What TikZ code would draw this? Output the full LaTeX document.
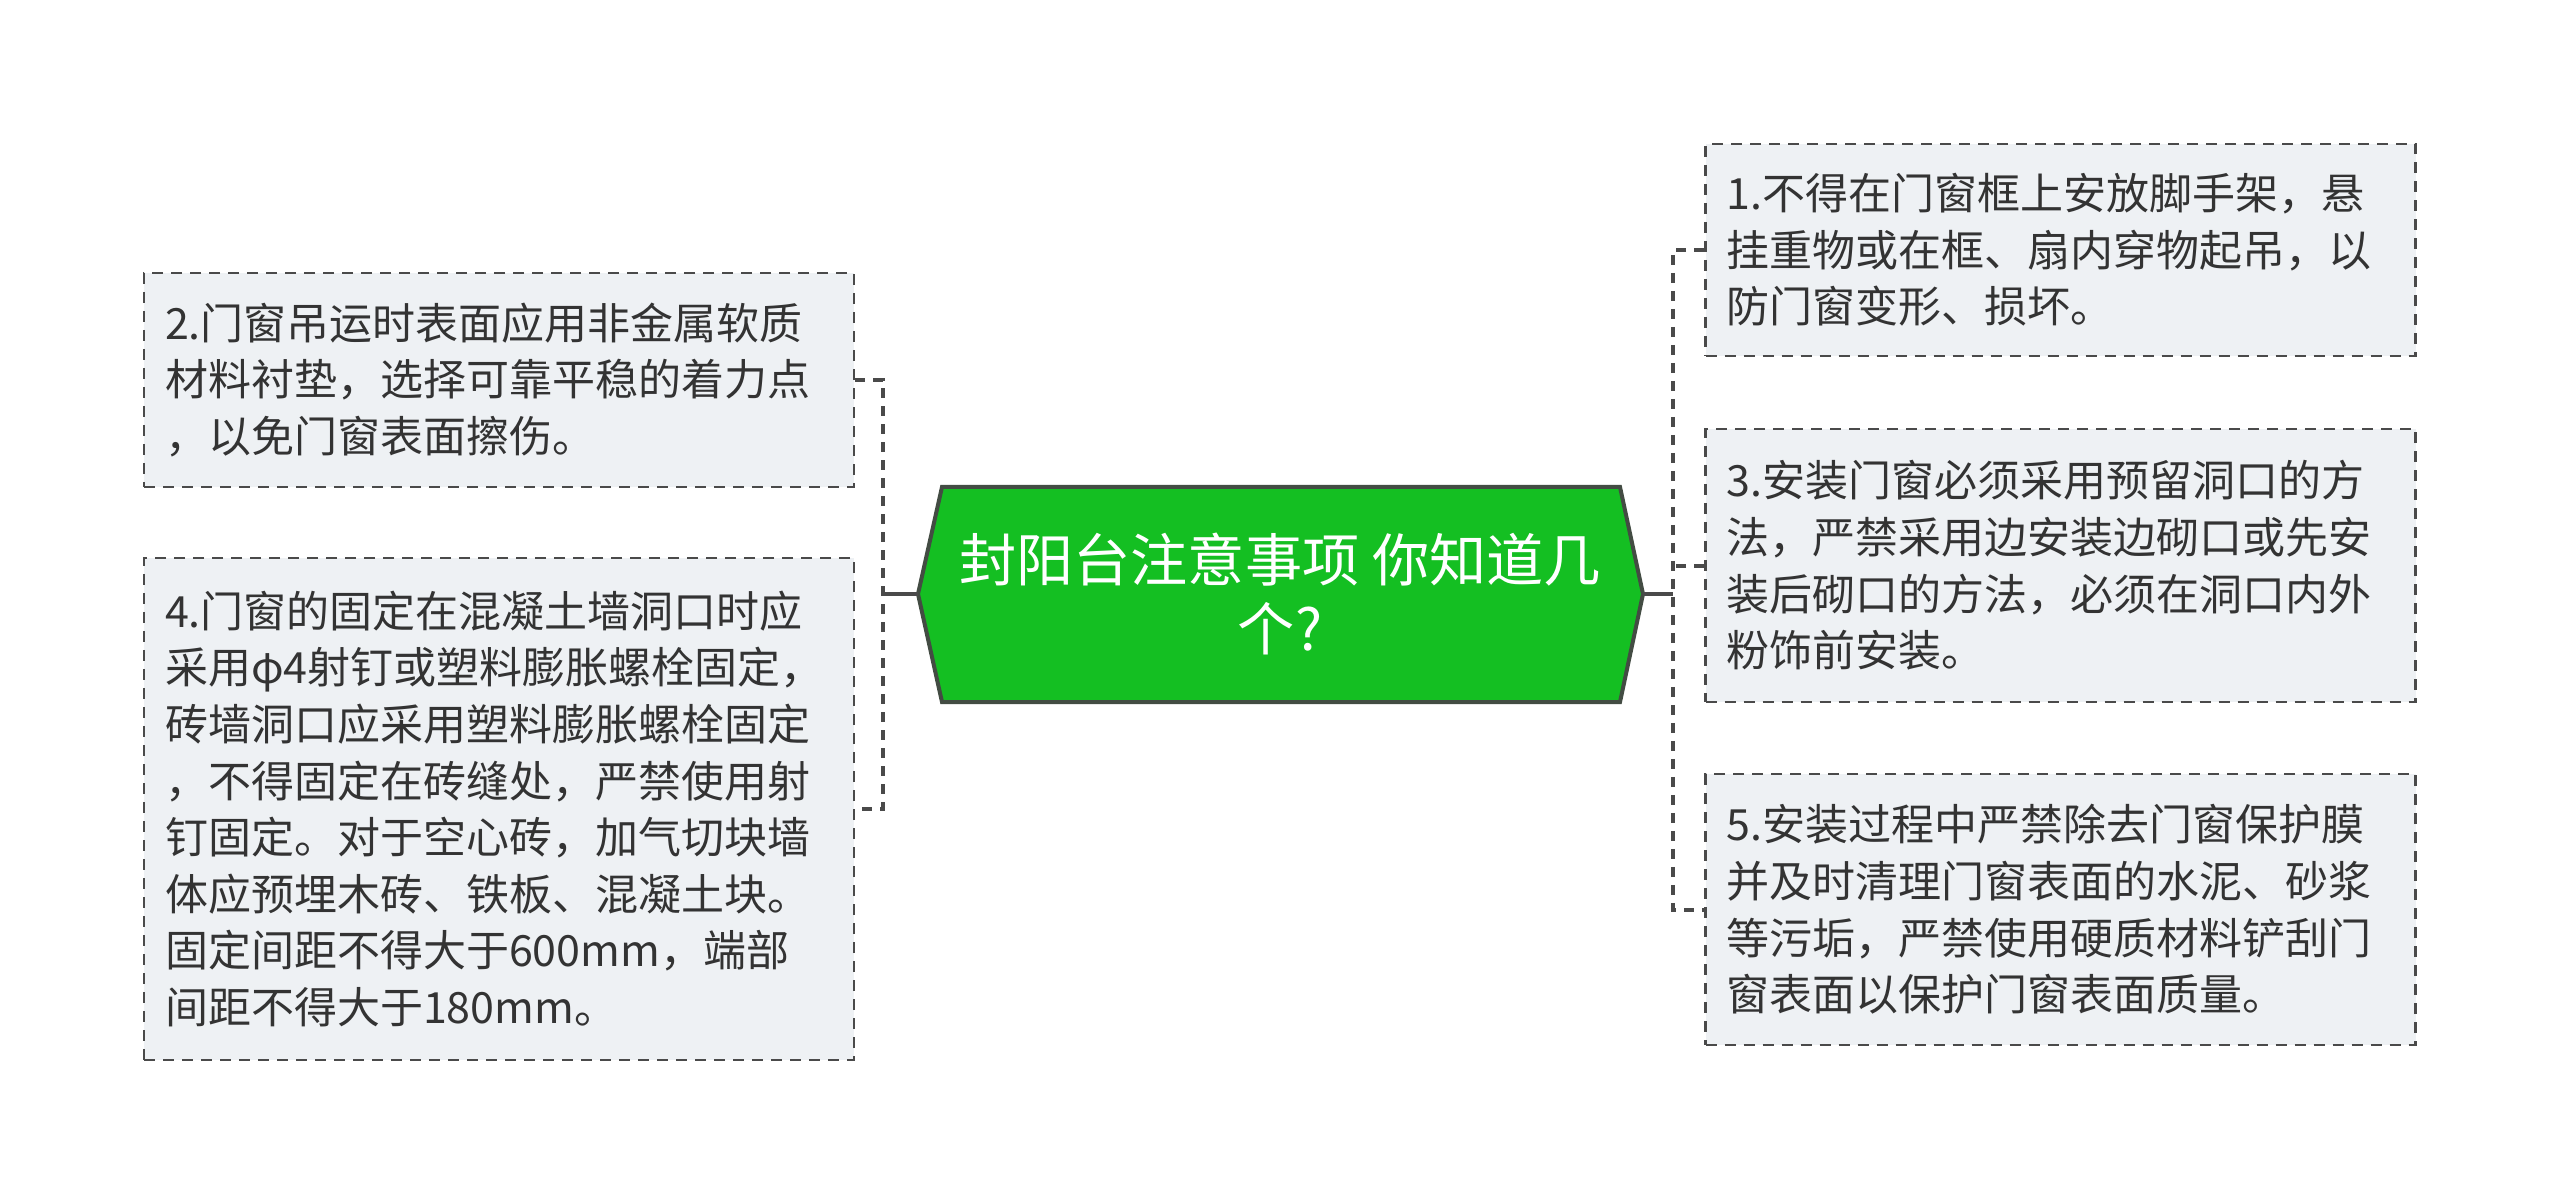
\documentclass[tikz,border=0pt]{standalone}
\usepackage{fontspec}
\setmainfont{Noto Sans CJK SC}
\begin{document}
\definecolor{boxfill}{HTML}{EEF1F4}
\definecolor{boxline}{HTML}{4A4A4A}
\definecolor{txt}{HTML}{333333}
\definecolor{hexgreen}{HTML}{14BF22}
\definecolor{hexline}{HTML}{434C43}
\definecolor{conncol}{HTML}{4A4A4A}
\tikzset{
  itembox/.style={draw=boxline, fill=boxfill, line width=1.3pt, dash pattern=on 5.5pt off 4pt,
    text=txt, align=left, inner sep=0pt, text width=334pt, minimum width=355pt,
    font=\fontsize{21.5}{28.3}\selectfont},
  conn/.style={draw=conncol, line width=2pt},
  dconn/.style={draw=conncol, line width=2pt, dash pattern=on 5pt off 4pt},
}
\begin{tikzpicture}[x=0.5pt,y=-0.5pt]
\useasboundingbox (0,0) rectangle (2560,1203);
\fill[white] (0,0) rectangle (2560,1203);
% central hexagon
\coordinate (cL) at (918,594);
\coordinate (cR) at (1643,594);
\draw[fill=hexgreen, draw=hexline, line width=2pt]
  (cL) -- (942,487) -- (1620,487) -- (cR) -- (1620,702) -- (942,702) -- cycle;
\node[text=white, align=center, font=\fontsize{28.6}{34.3}\selectfont] (ctr) at (1280,594)
  {封阳台注意事项 你知道几\\个?};
% left boxes
\node[itembox, minimum height=107pt] (b2) at (499,380)
  {2.门窗吊运时表面应用非金属软质\\材料衬垫，选择可靠平稳的着力点\\，以免门窗表面擦伤。};
\node[itembox, minimum height=251pt] (b4) at (499,809)
  {4.门窗的固定在混凝土墙洞口时应\\采用φ4射钉或塑料膨胀螺栓固定，\\砖墙洞口应采用塑料膨胀螺栓固定\\，不得固定在砖缝处，严禁使用射\\钉固定。对于空心砖，加气切块墙\\体应预埋木砖、铁板、混凝土块。\\固定间距不得大于600mm，端部\\间距不得大于180mm。};
% right boxes
\node[itembox, minimum height=106pt] (b1) at (2060.5,250)
  {1.不得在门窗框上安放脚手架，悬\\挂重物或在框、扇内穿物起吊，以\\防门窗变形、损坏。};
\node[itembox, minimum height=136.5pt] (b3) at (2060.5,565.5)
  {3.安装门窗必须采用预留洞口的方\\法，严禁采用边安装边砌口或先安\\装后砌口的方法，必须在洞口内外\\粉饰前安装。};
\node[itembox, minimum height=135.5pt] (b5) at (2060.5,909.5)
  {5.安装过程中严禁除去门窗保护膜\\并及时清理门窗表面的水泥、砂浆\\等污垢，严禁使用硬质材料铲刮门\\窗表面以保护门窗表面质量。};
% connectors
\coordinate (jL) at (883,594);
\coordinate (jR) at (1673,594);
\draw[conn] (cL) -- (jL);
\draw[conn] (cR) -- (jR);
\draw[dconn] (b2.east) -- (b2.east -| jL) -- (b4.east -| jL) -- (b4.east);
\draw[dconn] (b1.west) -- (b1.west -| jR) -- (b5.west -| jR) -- (b5.west);
\draw[dconn] (b3.west) -- (b3.west -| jR);
\end{tikzpicture}
\end{document}
